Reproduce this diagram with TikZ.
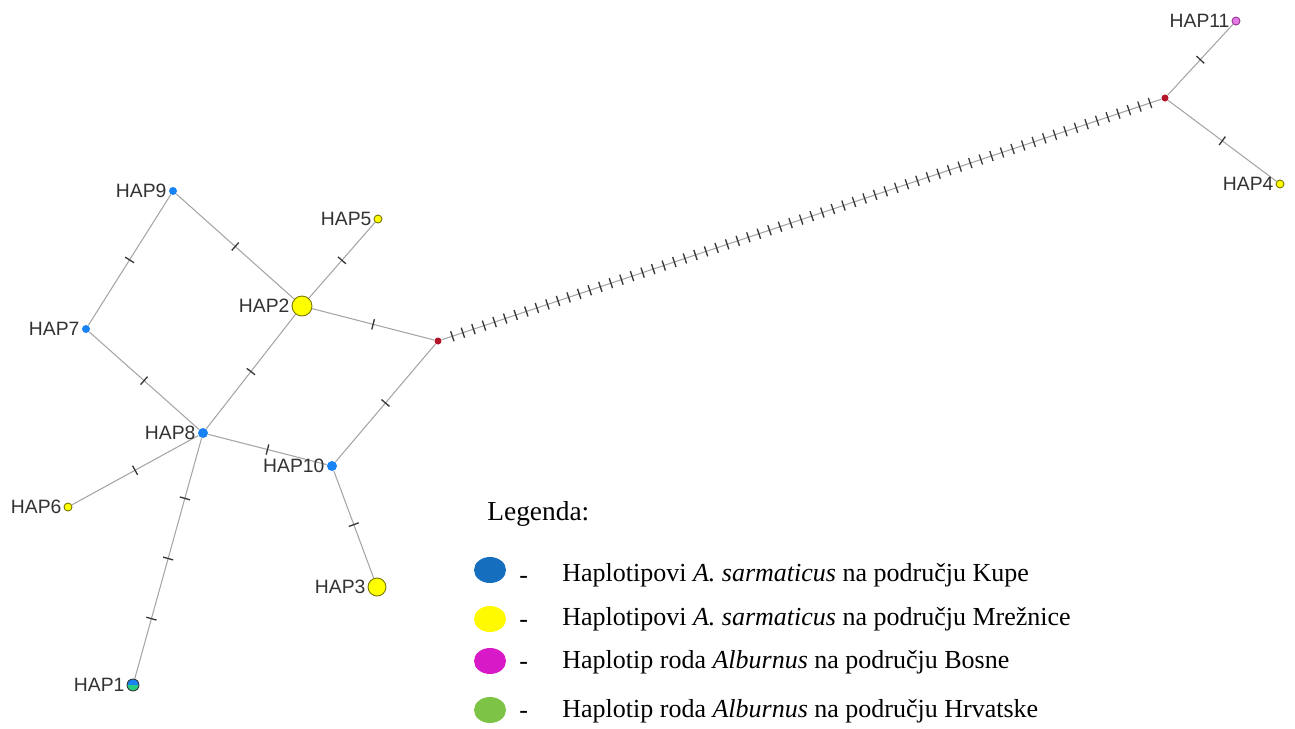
\documentclass[tikz,border=0pt]{standalone}
\usepackage{fontspec}
\setmainfont{Liberation Serif}
\newfontfamily\hapfont{Liberation Sans}
\usepackage{xcolor}
\usepackage{tikz}
\usetikzlibrary{shapes.geometric}
\usetikzlibrary{decorations.markings,backgrounds}

\definecolor{kupa}{RGB}{25,130,245}
\definecolor{mreznica}{RGB}{255,255,0}
\definecolor{mrezrub}{RGB}{115,115,0}
\definecolor{bosna}{RGB}{228,120,228}
\definecolor{bosnarub}{RGB}{150,50,150}
\definecolor{hrvatska}{RGB}{40,205,130}
\definecolor{median}{RGB}{180,20,40}
\definecolor{grana}{RGB}{165,165,165}
\definecolor{crtica}{RGB}{55,55,55}
\definecolor{natpis}{RGB}{50,50,50}
\definecolor{legplava}{RGB}{22,110,190}
\definecolor{legzuta}{RGB}{255,250,0}
\definecolor{legljub}{RGB}{215,25,200}
\definecolor{legzelena}{RGB}{125,195,70}

\begin{document}
\begin{tikzpicture}[x=0.02cm, y=-0.02cm,
  hap/.style = {circle, inner sep=0pt, line width=0.5pt, minimum size=#1},
  hap/.default = 0.16cm,
  kupe/.style = {hap=#1, fill=kupa},
  kupe/.default = 0.16cm,
  mreznice/.style = {hap=#1, fill=mreznica, draw=mrezrub},
  mreznice/.default = 0.16cm,
  mv/.style = {hap=0.14cm, fill=median},
  every label/.style = {font=\hapfont\fontsize{11}{13}\selectfont, text=natpis,
    inner sep=1pt, label distance=0pt},
  veza/.style = {draw=grana, line width=0.6pt},
  tick/.style = {draw=crtica, line width=0.75pt},
  muts/.style = {veza, postaction={decorate}, decoration={markings,
    mark=between positions #1 and 1-#1/2 step #1 with {\draw[tick] (0pt,-3pt) -- (0pt,3pt);}}},
  legkrug/.style = {ellipse, inner sep=0pt, minimum width=0.64cm, minimum height=0.52cm},
  legtekst/.style = {anchor=west, inner sep=0pt, font=\fontsize{14.8}{17}\selectfont}]
  \useasboundingbox (0,0) rectangle (1295,728);

  % haplotipovi
  \node[kupe] (hap9) at (173,191) [label=left:HAP9] {};
  \node[kupe] (hap7) at (86,329) [label=left:HAP7] {};
  \node[kupe=0.2cm] (hap8) at (203,433) [label=left:HAP8] {};
  \node[kupe=0.2cm] (hap10) at (332,466) [label=left:HAP10] {};
  \node[mreznice=0.4cm] (hap2) at (302,306) [label=left:HAP2] {};
  \node[mreznice] (hap5) at (378,219) [label=left:HAP5] {};
  \node[mreznice] (hap6) at (68,507) [label=left:HAP6] {};
  \node[mreznice=0.36cm] (hap3) at (377,587) [label=left:HAP3] {};
  \node[mreznice] (hap4) at (1280,184) [label=left:HAP4] {};
  \node[hap, fill=bosna, draw=bosnarub] (hap11) at (1236,21) [label=left:HAP11] {};
  \node[hap=0.24cm, fill=kupa, draw=crtica,
    path picture={\fill[hrvatska] (path picture bounding box.west) rectangle
      (path picture bounding box.south east);}] (hap1) at (133,685) [label=left:HAP1] {};
  \node[mv] (mv1) at (438,341) {};
  \node[mv] (mv2) at (1165,98) {};

  % grane
  \begin{scope}[on background layer]
  \path[muts=0.5] (hap9) -- (hap7);
  \path[muts=0.5] (hap9) -- (hap2);
  \path[muts=0.5] (hap7) -- (hap8);
  \path[muts=0.5] (hap8) -- (hap2);
  \path[muts=0.5] (hap8) -- (hap6);
  \path[muts=0.25] (hap8) -- (hap1);
  \path[muts=0.5] (hap8) -- (hap10);
  \path[muts=0.5] (hap10) -- (hap3);
  \path[muts=0.5] (hap10) -- (mv1);
  \path[muts=0.5] (hap2) -- (hap5);
  \path[muts=0.5] (hap2) -- (mv1);
  \path[muts=1/68] (mv1) -- (mv2);
  \path[muts=0.5] (mv2) -- (hap11);
  \path[muts=0.5] (mv2) -- (hap4);
  \end{scope}

  % legenda
  \node[legtekst, font=\fontsize{15.6}{18}\selectfont] (legnaslov) at (487,514) {Legenda:};
  \node[legkrug, fill=legplava] (leg1) at (490,570) {};
  \node[legkrug, fill=legzuta] (leg2) at (490,619) {};
  \node[legkrug, fill=legljub] (leg3) at (490,661) {};
  \node[legkrug, fill=legzelena] (leg4) at (490,710) {};
  \node[legtekst] (crt1) at (519,580) {-};
  \node[legtekst] (crt2) at (519,624) {-};
  \node[legtekst] (crt3) at (519,666) {-};
  \node[legtekst] (crt4) at (519,715) {-};
  \node[legtekst] (opis1) at (562,575) {Haplotipovi \textit{A. sarmaticus} na području Kupe};
  \node[legtekst] (opis2) at (562,619) {Haplotipovi \textit{A. sarmaticus} na području Mrežnice};
  \node[legtekst] (opis3) at (562,662) {Haplotip roda \textit{Alburnus} na području Bosne};
  \node[legtekst] (opis4) at (562,711) {Haplotip roda \textit{Alburnus} na području Hrvatske};
\end{tikzpicture}
\end{document}
